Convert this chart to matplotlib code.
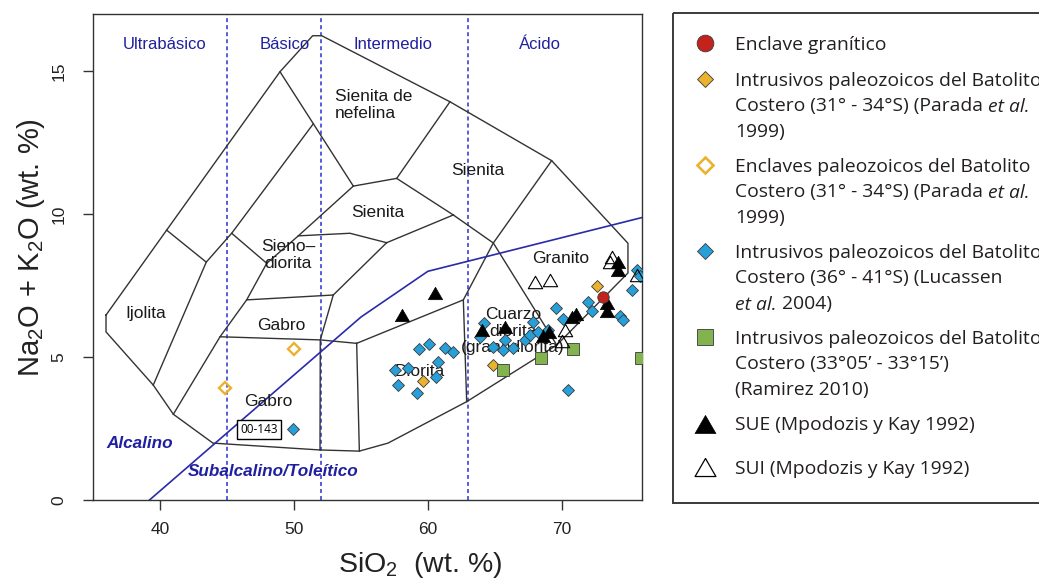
import matplotlib
matplotlib.use("Agg")
import matplotlib.pyplot as plt
from matplotlib.patches import Rectangle
from matplotlib.path import Path

plt.rcParams['font.family'] = ['Liberation Sans', 'DejaVu Sans']
plt.rcParams['mathtext.fontset'] = 'custom'
plt.rcParams['mathtext.rm'] = 'Liberation Sans'
plt.rcParams['mathtext.it'] = 'Liberation Sans:italic'

# ---------------- sample data: SiO2 vs Na2O+K2O (wt. %) ----------------
enclave_sio2 = [73.11]
enclave_alk = [7.10]

parada_int_sio2 = [59.66, 64.90, 72.64]
parada_int_alk = [4.16, 4.72, 7.49]

parada_encl_sio2 = [44.84, 50.00]
parada_encl_alk = [3.92, 5.28]

lucassen_sio2 = [49.95, 59.36, 60.11, 61.28, 61.86, 60.78, 58.49, 57.54, 60.57, 57.77,
                 59.19, 64.16, 63.89, 64.89, 65.76, 66.38, 67.26, 67.63, 67.88, 68.25,
                 69.61, 69.00, 70.12, 70.49, 71.99, 72.24, 74.36, 74.60, 75.23, 75.66,
                 75.85, 65.64]
lucassen_alk = [2.48, 5.28, 5.46, 5.32, 5.19, 4.83, 4.63, 4.53, 4.31, 4.02,
                3.73, 6.19, 5.70, 5.35, 5.60, 5.31, 5.60, 5.77, 6.24, 5.89,
                6.70, 5.95, 6.32, 3.85, 6.93, 6.60, 6.45, 6.30, 7.36, 8.04,
                7.83, 5.25]

ramirez_sio2 = [65.59, 68.42, 70.87, 75.92]
ramirez_alk = [4.53, 4.95, 5.28, 4.96]

sue_sio2 = [58.04, 60.53, 64.02, 65.76, 68.60, 69.05, 70.75, 71.07, 73.38, 73.38, 74.23, 74.23]
sue_alk = [6.47, 7.23, 5.95, 6.06, 5.74, 5.88, 6.41, 6.51, 6.89, 6.61, 8.32, 8.04]

sui_sio2 = [68.00, 69.12, 70.27, 70.00, 73.61, 73.76, 75.60]
sui_alk = [7.62, 7.71, 5.95, 5.56, 8.32, 8.50, 7.87]

sample_label = "00-143"
sample_label_pos = (47.38, 2.48)

# ---------------- classification template (plutonic TAS) ----------------
outline_x = [35.95, 40.48, 48.95, 51.39, 52.07, 61.65, 69.25, 74.95, 74.95, 69.63,
             62.90, 57.02, 54.88, 51.94, 43.94, 40.98, 39.48, 35.95, 35.95]
outline_y = [6.47, 9.44, 14.98, 16.24, 16.24, 13.93, 11.87, 8.98, 7.94, 5.42,
             3.44, 1.99, 1.71, 1.75, 1.99, 3.00, 4.02, 5.88, 6.47]

boundaries = [
    [(40.48, 9.44), (43.44, 8.32), (39.48, 4.02)],
    [(51.44, 13.16), (45.34, 9.33), (43.44, 8.32)],
    [(45.34, 9.33), (47.96, 8.28)],
    [(48.95, 14.98), (54.43, 10.98)],
    [(47.96, 8.28), (50.32, 9.24), (54.43, 10.98)],
    [(47.96, 8.28), (46.46, 7.00), (44.47, 5.71), (40.98, 3.00)],
    [(46.46, 7.00), (52.93, 7.17)],
    [(52.93, 7.17), (51.96, 5.60), (51.94, 1.75)],
    [(44.47, 5.71), (51.96, 5.60), (54.68, 5.48)],
    [(54.68, 5.48), (54.88, 1.71)],
    [(54.68, 5.48), (62.65, 7.00), (62.90, 3.44)],
    [(52.93, 7.17), (56.92, 9.00)],
    [(50.32, 9.24), (54.18, 9.33), (56.92, 9.00)],
    [(56.92, 9.00), (61.90, 9.97)],
    [(54.43, 10.98), (57.67, 11.25), (61.90, 9.97)],
    [(57.67, 11.25), (61.65, 13.93)],
    [(61.90, 9.97), (64.89, 8.99), (69.63, 5.42)],
    [(69.25, 11.87), (64.89, 8.99), (62.65, 7.00)],
]

# alkaline / subalkaline divide
divide_x = [39.2, 55.0, 60.0, 76.0]
divide_y = [0.0, 6.4, 8.0, 9.88]

# silica classes
class_limits = [45, 52, 63]
class_names = ["Ultrabásico", "Básico", "Intermedio", "Ácido"]
class_name_x = [40.36, 49.32, 57.39, 68.37]
class_name_y = 15.95

field_names = ["Sienita de\nnefelina", "Sienita", "Sienita", "Sieno–\ndiorita", "Granito",
               "Ijolita", "Gabro", "Cuarzo\ndiorita\n(granodiorita)", "Diorita", "Gabro"]
field_x = [53.06, 63.75, 56.27, 49.55, 69.95, 38.94, 49.03, 66.37, 59.41, 48.05]
field_y = [13.82, 11.54, 10.04, 8.57, 8.46, 6.51, 6.12, 5.91, 4.48, 3.43]
field_ha = ["left", "center", "center", "center", "center",
            "center", "center", "center", "center", "center"]

series_names = [
    "Enclave granítico",
    "Intrusivos paleozoicos del Batolito\nCostero (31° - 34°S) (Parada *et al.*\n1999)",
    "Enclaves paleozoicos del Batolito\nCostero (31° - 34°S) (Parada *et al.*\n1999)",
    "Intrusivos paleozoicos del Batolito\nCostero (36° - 41°S) (Lucassen\n*et al.* 2004)",
    "Intrusivos paleozoicos del Batolito\nCostero (33°05’ - 33°15’)\n(Ramirez 2010)",
    "SUE (Mpodozis y Kay 1992)",
    "SUI (Mpodozis y Kay 1992)",
]

# ---------------- styles ----------------
DKBLUE = "#1f1fa0"
LINEBLUE = "#2a2aaa"
DASHBLUE = "#2a32d0"
C_BLUE = "#27a0da"
C_GOLD = "#e9b22f"
C_GREEN = "#82b34e"
C_RED = "#c3231c"
EDGE = "#3a3a3a"
TRI = Path([(0, 0.433), (-0.5, -0.433), (0.5, -0.433), (0, 0.433)],
           [Path.MOVETO, Path.LINETO, Path.LINETO, Path.CLOSEPOLY])

W, H = 1039, 579
fig = plt.figure(figsize=(W / 100, H / 100), dpi=100)
ax = fig.add_axes([93.3 / W, 1 - 500 / H, (642 - 93.3) / W, (500 - 14) / H])
ax.set_xlim(35, 76)
ax.set_ylim(0, 17)

# template
ax.plot(outline_x, outline_y, color="#333333", lw=1.0, zorder=2)
for seg in boundaries:
    xs, ys = zip(*seg)
    ax.plot(xs, ys, color="#333333", lw=1.0, zorder=2)
ax.plot(divide_x, divide_y, color=LINEBLUE, lw=1.2, zorder=2)
for xv in class_limits:
    ax.axvline(xv, color=DASHBLUE, lw=1.1, dashes=(2.6, 2.0), zorder=1)

for name, xv in zip(class_names, class_name_x):
    ax.text(xv, class_name_y, name, color=DKBLUE, fontsize=12, ha="center", va="center")
for name, xv, yv, ha in zip(field_names, field_x, field_y, field_ha):
    ax.text(xv, yv, name, color="#1a1a1a", fontsize=12.5, ha=ha, va="center",
            linespacing=1.1, multialignment=ha, zorder=3)

ax.text(38.49, 1.96, "Alcalino", color=DKBLUE, fontsize=12.3, fontweight="bold",
        fontstyle="italic", ha="center", va="center")
ax.text(48.43, 0.98, "Subalcalino/Toleítico", color=DKBLUE, fontsize=12.3,
        fontweight="bold", fontstyle="italic", ha="center", va="center")
ax.text(sample_label_pos[0], sample_label_pos[1], sample_label, fontsize=8.5,
        family="Open Sans", ha="center", va="center", zorder=4,
        bbox=dict(boxstyle="square,pad=0.25", fc="white", ec="black", lw=1.0))

# data
ax.plot(lucassen_sio2, lucassen_alk, ls="none", marker="D", ms=5.8, mfc=C_BLUE,
        mec=EDGE, mew=0.6, zorder=5)
ax.plot(parada_int_sio2, parada_int_alk, ls="none", marker="D", ms=5.8, mfc=C_GOLD,
        mec=EDGE, mew=0.6, zorder=5)
ax.plot(parada_encl_sio2, parada_encl_alk, ls="none", marker="D", ms=5.8, mfc="none",
        mec=C_GOLD, mew=1.7, zorder=5)
ax.plot(ramirez_sio2, ramirez_alk, ls="none", marker="s", ms=8.6, mfc=C_GREEN,
        mec=EDGE, mew=0.6, zorder=5)
ax.plot(sue_sio2, sue_alk, ls="none", marker=TRI, ms=10.3, mfc="black",
        mec="black", mew=0.5, zorder=6)
ax.plot(sui_sio2, sui_alk, ls="none", marker=TRI, ms=10.3, mfc="none",
        mec="black", mew=0.8, zorder=6)
ax.plot(enclave_sio2, enclave_alk, ls="none", marker="o", ms=8.2, mfc=C_RED,
        mec=EDGE, mew=0.6, zorder=7)

# axes styling
for sp in ax.spines.values():
    sp.set_color("#333333")
    sp.set_linewidth(1.0)
ax.set_xticks([40, 50, 60, 70])
ax.set_yticks([0, 5, 10, 15])
ax.tick_params(direction="out", length=7, width=1, color="#333333",
               labelsize=12.5, labelcolor="#222222")
ax.tick_params(axis="x", pad=8.5)
ax.tick_params(axis="y", pad=12.5)
for lab in ax.get_yticklabels():
    lab.set_rotation(90)
    lab.set_va("center")
ax.set_xlabel("SiO$_2$  (wt. %)", fontsize=20.5, color="#222222")
ax.set_ylabel("Na$_2$O + K$_2$O (wt. %)", fontsize=21, color="#222222")
ax.xaxis.set_label_coords((420 - 93.3) / 548.7, (500 - 550) / 486)
ax.yaxis.set_label_coords((47 - 93.3) / 548.7, (500 - 248) / 486)

# ---------------- legend ----------------
ov = fig.add_axes([0, 0, 1, 1], zorder=10)
ov.set_xlim(0, W)
ov.set_ylim(H, 0)
ov.axis("off")
ov.patch.set_alpha(0)
ov.add_patch(Rectangle((673, 12.5), 420, 490, fill=False, ec="#3a3a3a", lw=1.4))

LEG_FONT = "Open Sans"
LEG_COLOR = "#231f20"
renderer = fig.canvas.get_renderer()
probe = ov.text(0, 0, "Enclaves paleozoicos del Batolito", fontsize=10, family=LEG_FONT)
leg_size = 10 * 293 / probe.get_window_extent(renderer).width
probe.remove()

leg_marker_styles = [
    dict(marker="o", ms=12, mfc=C_RED, mec=EDGE, mew=0.6),
    dict(marker="D", ms=8.5, mfc=C_GOLD, mec=EDGE, mew=0.6),
    dict(marker="D", ms=8.0, mfc="none", mec=C_GOLD, mew=1.9),
    dict(marker="D", ms=8.5, mfc=C_BLUE, mec=EDGE, mew=0.6),
    dict(marker="s", ms=11.5, mfc=C_GREEN, mec=EDGE, mew=0.6),
    dict(marker=TRI, ms=15, mfc="black", mec="black", mew=0.5),
    dict(marker=TRI, ms=15, mfc="none", mec="black", mew=0.9),
]
entry_top = [43, 79, 165, 251, 337, 424, 467]
line_step = 26
text_x = 735


def draw_rich_line(x, y, line):
    parts = line.split("*")
    for i, part in enumerate(parts):
        if not part:
            continue
        t = ov.text(x, y, part, fontsize=leg_size, family=LEG_FONT, color=LEG_COLOR,
                    fontstyle="italic" if i % 2 else "normal", ha="left", va="baseline")
        x += t.get_window_extent(renderer).width


for name, style, ytop in zip(series_names, leg_marker_styles, entry_top):
    ov.plot([705], [ytop], ls="none", **style)
    for k, line in enumerate(name.split("\n")):
        draw_rich_line(text_x, ytop + k * line_step + 6.5, line)

fig.savefig("out.png", dpi=100)
